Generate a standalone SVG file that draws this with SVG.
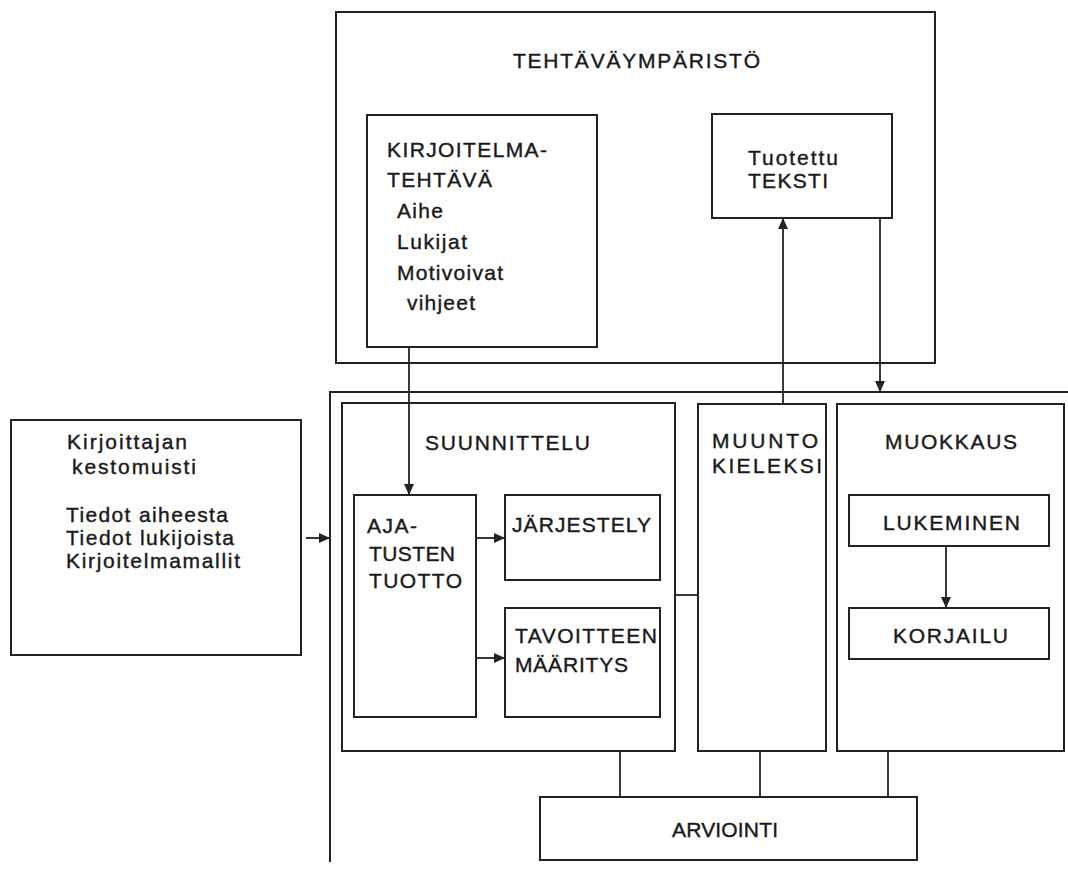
<svg xmlns="http://www.w3.org/2000/svg" width="1068" height="876" viewBox="0 0 1068 876">
<style>
.b{fill:none;stroke:#222;stroke-width:2}
.c{fill:none;stroke:#222;stroke-width:1.8}
text{font-family:"Liberation Sans",Arial,sans-serif;font-size:21px;fill:#1a1a1a;stroke:#1a1a1a;stroke-width:0.4}
</style>
<defs>
<marker id="ah" markerUnits="userSpaceOnUse" markerWidth="12" markerHeight="10" viewBox="0 0 12 10" refX="11" refY="5" orient="auto">
<path d="M0,0 L11,5 L0,10 Z" fill="#222"/>
</marker>
</defs>
<rect width="1068" height="876" fill="#fff"/>

<g id="tehtavaymparisto">
<rect class="b" x="336" y="12" width="599" height="351"/>
<text x="513" y="68" textLength="247" lengthAdjust="spacing">TEHTÄVÄYMPÄRISTÖ</text>
</g>

<g id="kirjoitelmatehtava">
<rect class="b" x="367" y="115" width="230" height="232"/>
<text x="387" y="157" textLength="160" lengthAdjust="spacing">KIRJOITELMA-</text>
<text x="387" y="187" textLength="105" lengthAdjust="spacing">TEHTÄVÄ</text>
<text x="397" y="218" textLength="46" lengthAdjust="spacing">Aihe</text>
<text x="397" y="249" textLength="70" lengthAdjust="spacing">Lukijat</text>
<text x="397" y="280" textLength="106" lengthAdjust="spacing">Motivoivat</text>
<text x="407" y="310" textLength="68" lengthAdjust="spacing">vihjeet</text>
</g>

<g id="tuotettu">
<rect class="b" x="712" y="114" width="180" height="104"/>
<text x="748" y="165" textLength="90" lengthAdjust="spacing">Tuotettu</text>
<text x="748" y="188" textLength="80" lengthAdjust="spacing">TEKSTI</text>
</g>

<g id="kirjoittaja">
<rect class="b" x="11" y="420" width="290" height="235"/>
<text x="67" y="449" textLength="120" lengthAdjust="spacing">Kirjoittajan</text>
<text x="72" y="474" textLength="124" lengthAdjust="spacing">kestomuisti</text>
<text x="66" y="522" textLength="162" lengthAdjust="spacing">Tiedot aiheesta</text>
<text x="66" y="545" textLength="168" lengthAdjust="spacing">Tiedot lukijoista</text>
<text x="66" y="568" textLength="174" lengthAdjust="spacing">Kirjoitelmamallit</text>
</g>

<g id="prosessi">
<path class="b" d="M1068,392 H330 V862"/>
</g>

<g id="suunnittelu">
<rect class="b" x="342" y="403" width="333" height="348"/>
<text x="425" y="450" textLength="165" lengthAdjust="spacing">SUUNNITTELU</text>
</g>

<g id="ajatusten">
<rect class="b" x="354" y="495" width="122" height="222"/>
<text x="367" y="533" textLength="50" lengthAdjust="spacing">AJA-</text>
<text x="369" y="561" textLength="86" lengthAdjust="spacing">TUSTEN</text>
<text x="369" y="588" textLength="93" lengthAdjust="spacing">TUOTTO</text>
</g>

<g id="jarjestely">
<rect class="b" x="505" y="495" width="155" height="85"/>
<text x="512" y="532" textLength="139" lengthAdjust="spacing">JÄRJESTELY</text>
</g>

<g id="tavoitteen">
<rect class="b" x="505" y="608" width="155" height="109"/>
<text x="515" y="643" textLength="142" lengthAdjust="spacing">TAVOITTEEN</text>
<text x="515" y="672" textLength="113" lengthAdjust="spacing">MÄÄRITYS</text>
</g>

<g id="muunto">
<rect class="b" x="698" y="404" width="128" height="347"/>
<text x="712" y="448" textLength="106" lengthAdjust="spacing">MUUNTO</text>
<text x="712" y="473" textLength="110" lengthAdjust="spacing">KIELEKSI</text>
</g>

<g id="muokkaus">
<rect class="b" x="837" y="404" width="227" height="347"/>
<text x="885" y="449" textLength="132" lengthAdjust="spacing">MUOKKAUS</text>
</g>

<g id="lukeminen">
<rect class="b" x="849" y="495" width="200" height="51"/>
<text x="883" y="530" textLength="137" lengthAdjust="spacing">LUKEMINEN</text>
</g>

<g id="korjailu">
<rect class="b" x="849" y="608" width="200" height="51"/>
<text x="893" y="643" textLength="115" lengthAdjust="spacing">KORJAILU</text>
</g>

<g id="arviointi">
<rect class="b" x="540" y="797" width="377" height="63"/>
<text x="672" y="837" textLength="106" lengthAdjust="spacing">ARVIOINTI</text>
</g>

<g id="connectors">
<line class="c" x1="409" y1="347" x2="409" y2="495" marker-end="url(#ah)"/>
<line class="c" x1="476" y1="538" x2="505" y2="538" marker-end="url(#ah)"/>
<line class="c" x1="476" y1="658" x2="505" y2="658" marker-end="url(#ah)"/>
<line class="c" x1="675" y1="595" x2="698" y2="595"/>
<line class="c" x1="783" y1="404" x2="783" y2="218" marker-end="url(#ah)"/>
<line class="c" x1="880" y1="218" x2="880" y2="392" marker-end="url(#ah)"/>
<line class="c" x1="946" y1="546" x2="946" y2="608" marker-end="url(#ah)"/>
<line class="c" x1="306" y1="538" x2="330" y2="538" marker-end="url(#ah)"/>
<line class="c" x1="620" y1="751" x2="620" y2="797"/>
<line class="c" x1="760" y1="751" x2="760" y2="797"/>
<line class="c" x1="888" y1="751" x2="888" y2="797"/>
</g>
</svg>
